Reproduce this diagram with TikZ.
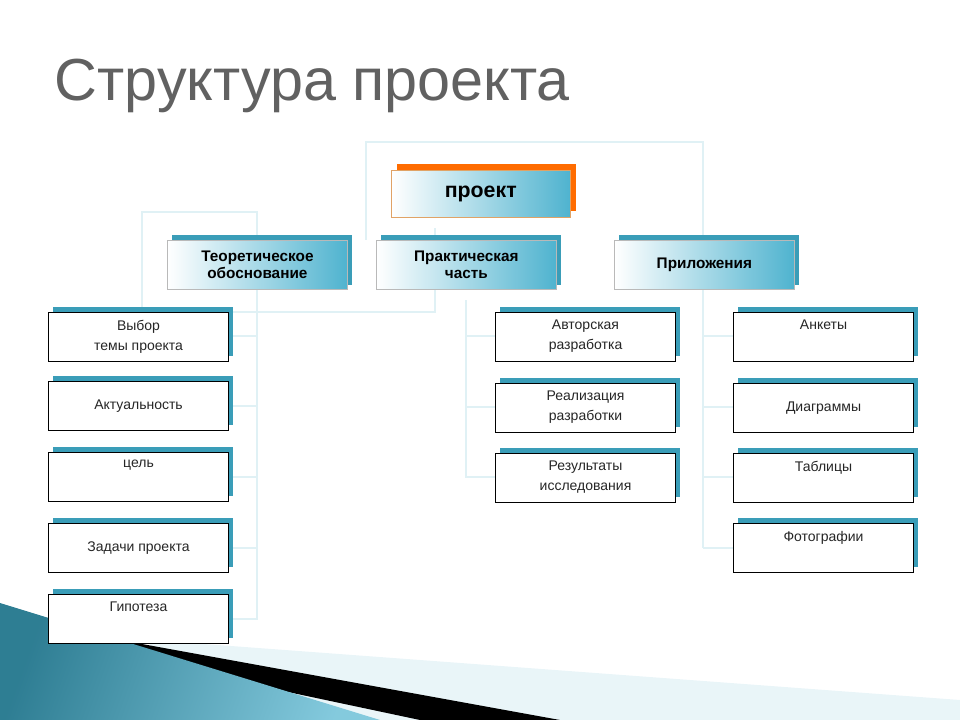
\documentclass[tikz,border=0pt]{standalone}
\usepackage{fontspec}
\setmainfont{Liberation Sans}
\definecolor{teal1}{HTML}{3A9DB8}
\definecolor{teal2}{HTML}{4FB3CF}
\definecolor{lineC}{HTML}{E0F1F5}
\begin{document}
\begin{tikzpicture}[x=0.75pt,y=-0.75pt,
  conn/.style={draw=lineC, line width=2.2pt},
  child/.style={draw=black, fill=white, line width=0.8pt, minimum width=135pt, minimum height=37pt, inner sep=0pt},
  head/.style={draw=gray!55, line width=0.6pt, shading=axis, shading angle=120, left color=white, right color=teal2, minimum width=135pt, minimum height=37pt, inner sep=0pt, font=\bfseries\fontsize{11.5}{13}\selectfont, align=center},
  tshadow/.style={fill=teal1},
  ctext/.style={font=\fontsize{10.5}{15}\selectfont, align=center, text=black!85},
]
\useasboundingbox (0,0) rectangle (960,720);
% bottom decoration
\fill[lineC!70!white] (150,640) -- (960,700) -- (960,720) -- (150,720) -- cycle;
\fill[black] (120,640) -- (560,720) -- (420,720) -- (90,650) -- cycle;
\shade[left color=teal1!80!black, right color=teal2!70!white, shading angle=70] (0,603) -- (380,720) -- (0,720) -- cycle;
% title
\node[anchor=west, text=black!62, font=\fontsize{44.5}{48}\selectfont] (title) at (50,86) {Структура проекта};
% connectors
\draw[conn] (366,240) -- (366,142) -- (703,142) -- (703,548);
\draw[conn] (142,310) -- (142,212) -- (257,212) -- (257,620);
\draw[conn] (142,312) -- (435,312) -- (435,228);
\draw[conn] (466,300) -- (466,478);
\foreach \y in {336,406,477,548,619} \draw[conn] (228,\y) -- (257,\y);
\foreach \y in {336,407,477} \draw[conn] (466,\y) -- (495,\y);
\foreach \y in {336,407,477,548} \draw[conn] (703,\y) -- (733,\y);
% проект
\fill[orange!85!red] (397,164) rectangle (576,211);
\node[head, draw=orange!80!black!60, minimum width=134pt, minimum height=35pt, font=\bfseries\fontsize{16}{18}\selectfont, anchor=north west] (proj) at (391,170) {проект};
% heads
\foreach \n/\x/\t in {th/167/{Теоретическое\\обоснование}, pr/376/{Практическая\\часть}, ap/614/{Приложения}}{
  \fill[tshadow] (\x+5,235) rectangle (\x+185,285);
  \node[head, anchor=north west] (\n) at (\x,240) {\t};
}
% children
\foreach \n/\x/\y in {a1/48/312, a2/48/381, a3/48/452, a4/48/523, a5/48/594,
  b1/495/312, b2/495/383, b3/495/453, c1/733/312, c2/733/383, c3/733/453, c4/733/523}{
  \fill[tshadow] (\x+5,\y-5) rectangle (\x+185,\y+44);
  \node[child, anchor=north west] (\n) at (\x,\y) {};
}
\foreach \n/\t/\d in {a1/{Выбор\\темы проекта}/0, a2/{Актуальность}/1, a3/{цель}/0, a4/{Задачи проекта}/1, a5/{Гипотеза}/0,
  b1/{Авторская\\разработка}/0, b2/{Реализация\\разработки}/0, b3/{Результаты\\исследования}/0,
  c1/{Анкеты}/0, c2/{Диаграммы}/1, c3/{Таблицы}/0, c4/{Фотографии}/0}{
  \ifnum\d=0
    \node[ctext, anchor=north, inner sep=0pt] at ([yshift=-6pt]\n.north) {\t};
  \else
    \node[ctext] at (\n.center) {\t};
  \fi
}
\end{tikzpicture}
\end{document}
